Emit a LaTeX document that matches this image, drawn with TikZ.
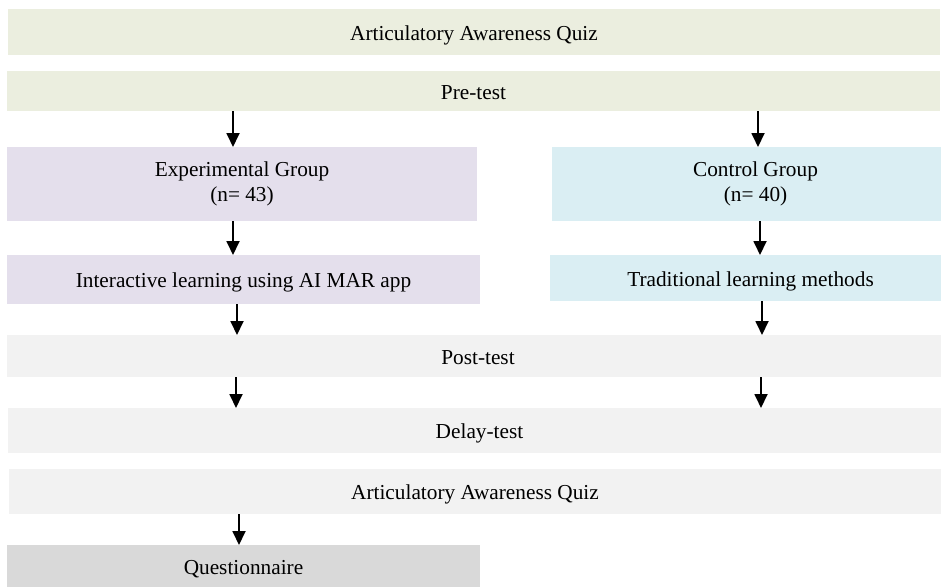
\documentclass[tikz,border=0pt]{standalone}
\usepackage{fontspec}
\setmainfont{Liberation Serif}
\usetikzlibrary{arrows.meta, positioning}
\definecolor{QuizGreen}{HTML}{EBEEDF}
\definecolor{ExpLilac}{HTML}{E4DFEC}
\definecolor{CtlBlue}{HTML}{DAEEF3}
\definecolor{TestGray}{HTML}{F2F2F2}
\definecolor{QuestGray}{HTML}{D9D9D9}

\begin{document}
\begin{tikzpicture}[
        x=1pt, y=-1pt,
        every node/.style={font=\fontsize{21.3}{25}\selectfont},
        box/.style = {rectangle, anchor=north west, inner sep=0pt,
            outer sep=0pt, align=center},
        oneline/.style = {box, text height=19pt, text depth=3pt},
        flow/.style = {-{Triangle[length=14pt,width=13pt]}, line width=1.8pt},
    ]
    \useasboundingbox (0,0) rectangle (941,587);
    % stages of the study
    \node[oneline, fill=QuizGreen, minimum width=932pt, minimum height=46pt] (quizA) at (8,9) {Articulatory Awareness Quiz};
    \node[oneline, fill=QuizGreen, minimum width=933pt, minimum height=40pt] (pre) at (7,71) {Pre-test};
    \node[box, fill=ExpLilac, minimum width=470pt, minimum height=74pt] (exp) at (7,147) {Experimental Group\\(n= 43)};
    \node[box, fill=CtlBlue, minimum width=389pt, minimum height=74pt] (ctl) at (552,147) {\hspace*{18pt}Control Group\\\hspace*{18pt}(n= 40)};
    \node[oneline, fill=ExpLilac, minimum width=473pt, minimum height=49pt] (inter) at (7,255) {Interactive learning using AI MAR app};
    \node[oneline, fill=CtlBlue, minimum width=391pt, minimum height=46pt] (trad) at (550,255) {\hspace*{10pt}Traditional learning methods};
    \node[oneline, fill=TestGray, minimum width=934pt, minimum height=42pt] (post) at (7,335) {\hspace*{8pt}Post-test};
    \node[oneline, fill=TestGray, minimum width=933pt, minimum height=45pt] (delay) at (8,408) {\hspace*{10pt}Delay-test};
    \node[oneline, fill=TestGray, minimum width=932pt, minimum height=45pt] (quizB) at (9,469) {Articulatory Awareness Quiz};
    \node[oneline, fill=QuestGray, minimum width=473pt, minimum height=42pt] (quest) at (7,545) {Questionnaire};
    % arrows
    \foreach \a/\b/\x in {pre/exp/233, pre/ctl/758, exp/inter/233, ctl/trad/760,
            inter/post/237, trad/post/762, post/delay/236, post/delay/761, quizB/quest/239}
        \draw[flow] (\a.south -| \x,0) -- (\b.north -| \x,0);
\end{tikzpicture}
\end{document}
